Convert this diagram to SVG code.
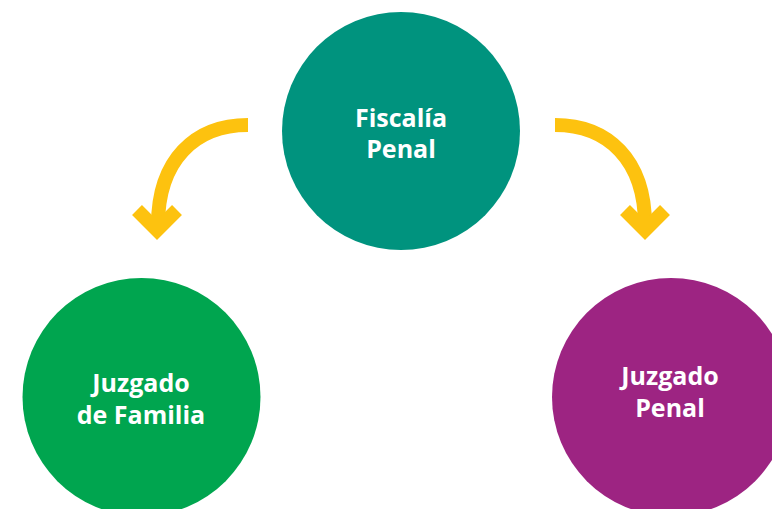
<svg xmlns="http://www.w3.org/2000/svg" width="772" height="509" viewBox="0 0 772 509">
<style>
.lbl{font-family:"Open Sans","Liberation Sans",sans-serif;font-weight:bold;font-size:25px;fill:#ffffff;text-anchor:middle}
.arr{fill:none;stroke:#FDC20F;stroke-width:14}
</style>
<rect width="772" height="509" fill="#ffffff"/>
<g id="connectors">
<path class="arr" d="M248,125 C195,125 158,160 158,225"/>
<path class="arr" d="M137,210 L157,230 L177,210"/>
<path class="arr" d="M555,125 C608,125 645,160 645,225"/>
<path class="arr" d="M625,210 L645,230 L665,210"/>
</g>
<g id="fiscalia">
<circle cx="401" cy="131" r="119" fill="#00937E"/>
<text class="lbl" x="401" y="127">Fiscalía</text>
<text class="lbl" x="401" y="158">Penal</text>
</g>
<g id="familia">
<circle cx="141.5" cy="397" r="119" fill="#00A54F"/>
<text class="lbl" x="141" y="392">Juzgado</text>
<text class="lbl" x="141" y="424">de Familia</text>
</g>
<g id="juzgado-penal">
<circle cx="671" cy="397" r="119" fill="#9D2482"/>
<text class="lbl" x="670" y="385">Juzgado</text>
<text class="lbl" x="670" y="417">Penal</text>
</g>
</svg>
